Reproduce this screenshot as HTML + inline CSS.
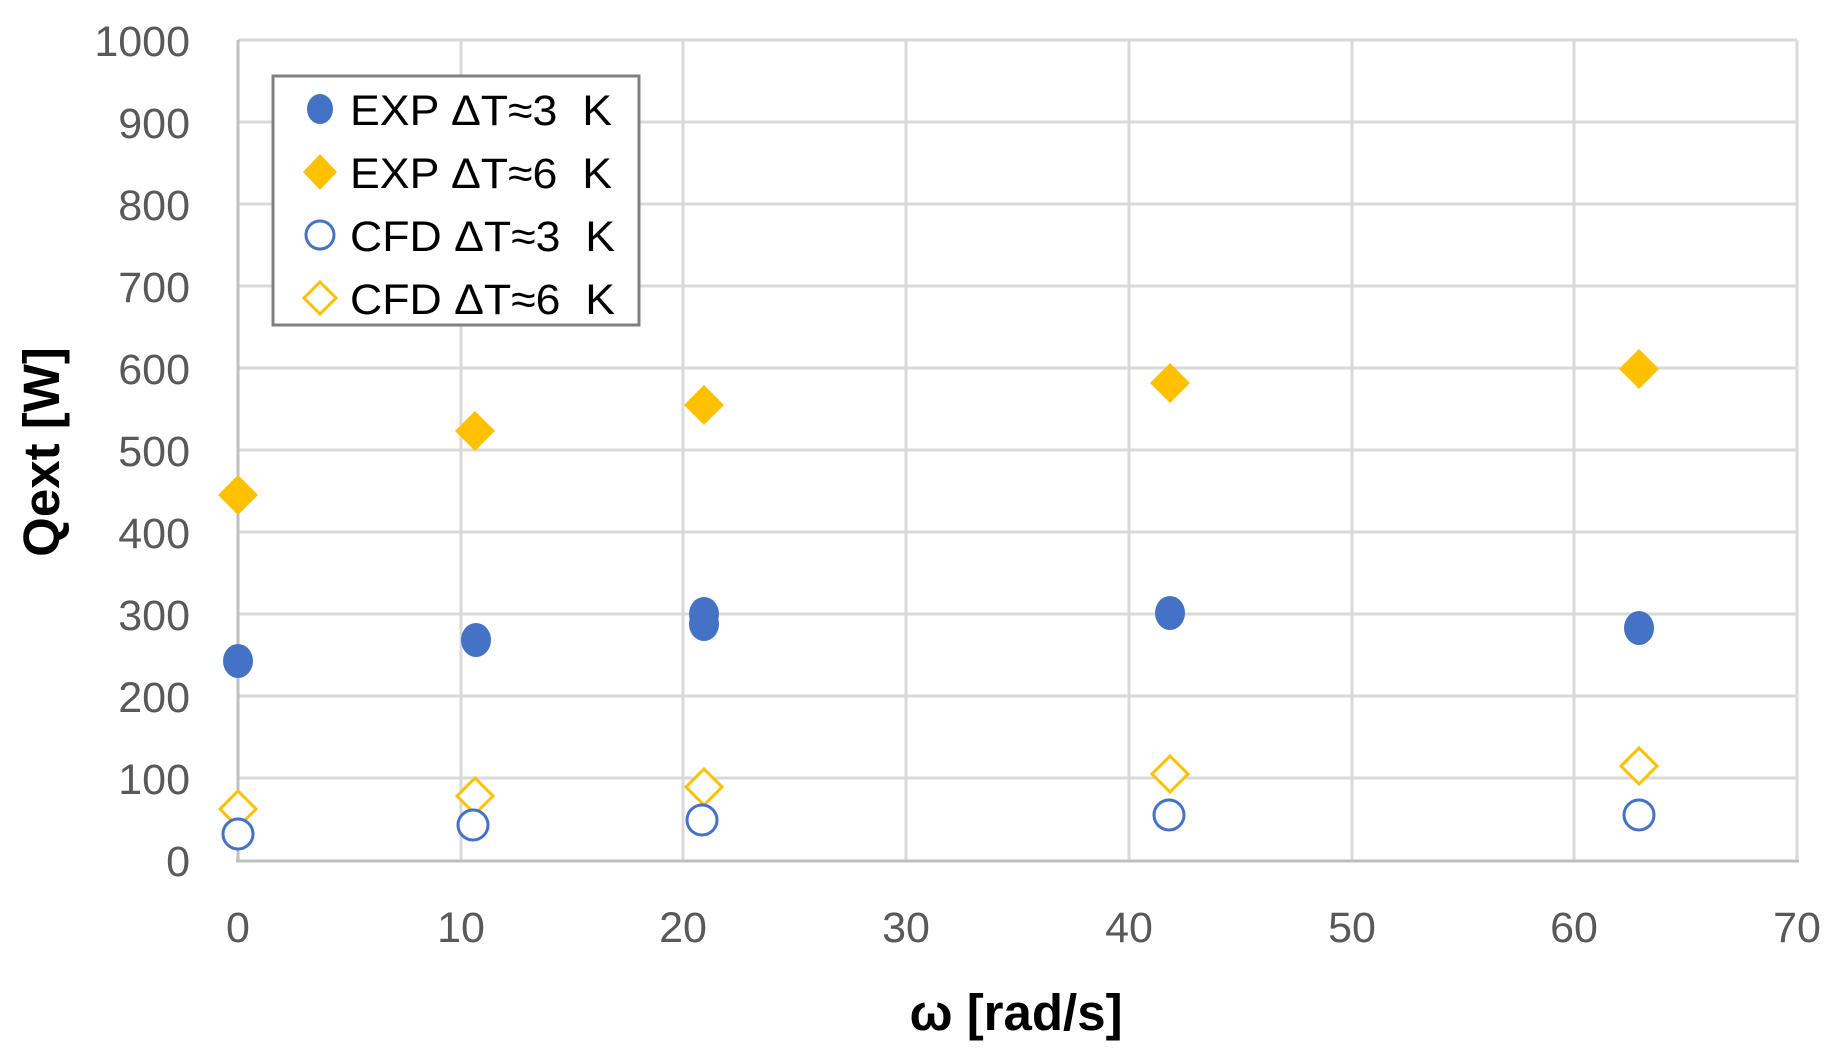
<!DOCTYPE html>
<html><head><meta charset="utf-8"><style>
html,body{margin:0;padding:0;background:#fff;}
svg{display:block;}
text{font-family:"Liberation Sans","DejaVu Sans",sans-serif;white-space:pre;}
</style></head><body>
<svg width="1840" height="1063" viewBox="0 0 1840 1063" xmlns="http://www.w3.org/2000/svg">
<rect width="1840" height="1063" fill="#fff"/>
<g stroke="#d9d9d9" stroke-width="3">
<line x1="238" y1="40" x2="1797" y2="40"/>
<line x1="238" y1="122" x2="1797" y2="122"/>
<line x1="238" y1="204" x2="1797" y2="204"/>
<line x1="238" y1="286" x2="1797" y2="286"/>
<line x1="238" y1="368" x2="1797" y2="368"/>
<line x1="238" y1="450" x2="1797" y2="450"/>
<line x1="238" y1="532" x2="1797" y2="532"/>
<line x1="238" y1="614" x2="1797" y2="614"/>
<line x1="238" y1="696" x2="1797" y2="696"/>
<line x1="238" y1="778" x2="1797" y2="778"/>
<line x1="461" y1="40" x2="461" y2="860"/>
<line x1="683" y1="40" x2="683" y2="860"/>
<line x1="906" y1="40" x2="906" y2="860"/>
<line x1="1129" y1="40" x2="1129" y2="860"/>
<line x1="1352" y1="40" x2="1352" y2="860"/>
<line x1="1574" y1="40" x2="1574" y2="860"/>
<line x1="1797" y1="40" x2="1797" y2="860"/>
</g>
<g stroke="#bfbfbf" stroke-width="3">
<line x1="238" y1="40" x2="238" y2="862"/>
<line x1="236" y1="861" x2="1799" y2="861"/>
</g>
<g fill="#595959" font-size="43" text-anchor="end">
<text x="190" y="56">1000</text>
<text x="190" y="138">900</text>
<text x="190" y="220">800</text>
<text x="190" y="302">700</text>
<text x="190" y="384">600</text>
<text x="190" y="466">500</text>
<text x="190" y="548">400</text>
<text x="190" y="630">300</text>
<text x="190" y="712">200</text>
<text x="190" y="794">100</text>
<text x="190" y="876">0</text>
</g>
<g fill="#595959" font-size="43" text-anchor="middle">
<text x="238" y="942">0</text>
<text x="461" y="942">10</text>
<text x="683" y="942">20</text>
<text x="906" y="942">30</text>
<text x="1129" y="942">40</text>
<text x="1352" y="942">50</text>
<text x="1574" y="942">60</text>
<text x="1797" y="942">70</text>
</g>
<text x="1016" y="1030" font-size="51" font-weight="bold" text-anchor="middle" fill="#000">ω [rad/s]</text>
<text transform="translate(59,452) rotate(-90)" font-size="51" font-weight="bold" text-anchor="middle" fill="#000">Qext [W]</text>
<g fill="#fff" stroke="#ffc000" stroke-width="3">
<path d="M238 791 l18 18 l-18 18 l-18 -18z"/>
<path d="M475 778 l18 18 l-18 18 l-18 -18z"/>
<path d="M704 769 l18 18 l-18 18 l-18 -18z"/>
<path d="M1170 756 l18 18 l-18 18 l-18 -18z"/>
<path d="M1639 748 l18 18 l-18 18 l-18 -18z"/>
</g>
<g fill="#fff" stroke="#4472c4" stroke-width="3">
<circle cx="238" cy="834" r="15"/>
<circle cx="473" cy="825" r="15"/>
<circle cx="702" cy="820" r="15"/>
<circle cx="1169" cy="815" r="15"/>
<circle cx="1639" cy="815" r="15"/>
</g>
<g fill="#ffc000">
<path d="M238 475 l20 20 l-20 20 l-20 -20z"/>
<path d="M475 411 l20 20 l-20 20 l-20 -20z"/>
<path d="M704 385 l20 20 l-20 20 l-20 -20z"/>
<path d="M1170 363 l20 20 l-20 20 l-20 -20z"/>
<path d="M1639 349 l20 20 l-20 20 l-20 -20z"/>
</g>
<g fill="#4472c4">
<ellipse cx="238" cy="661" rx="15" ry="17"/>
<ellipse cx="476" cy="640" rx="15" ry="17"/>
<ellipse cx="704" cy="614" rx="15" ry="17"/>
<ellipse cx="704" cy="624" rx="15" ry="17"/>
<ellipse cx="1170" cy="613" rx="15" ry="17"/>
<ellipse cx="1639" cy="628" rx="15" ry="17"/>
</g>
<rect x="273" y="76" width="366" height="249" fill="#fff" stroke="#808080" stroke-width="3"/>
<ellipse cx="320" cy="109" rx="13" ry="15" fill="#4472c4"/>
<path d="M320 154 l17 18 l-17 18 l-17 -18z" fill="#ffc000"/>
<circle cx="320" cy="235" r="14" fill="#fff" stroke="#4472c4" stroke-width="3"/>
<path d="M320 282 l16 16 l-16 16 l-16 -16z" fill="#fff" stroke="#ffc000" stroke-width="3"/>
<g fill="#000" font-size="43">
<text x="350" y="125" textLength="262" lengthAdjust="spacingAndGlyphs">EXP ΔT≈3  K</text>
<text x="350" y="188" textLength="262" lengthAdjust="spacingAndGlyphs">EXP ΔT≈6  K</text>
<text x="350" y="251" textLength="265" lengthAdjust="spacingAndGlyphs">CFD ΔT≈3  K</text>
<text x="350" y="314" textLength="265" lengthAdjust="spacingAndGlyphs">CFD ΔT≈6  K</text>
</g>
</svg>
</body></html>
